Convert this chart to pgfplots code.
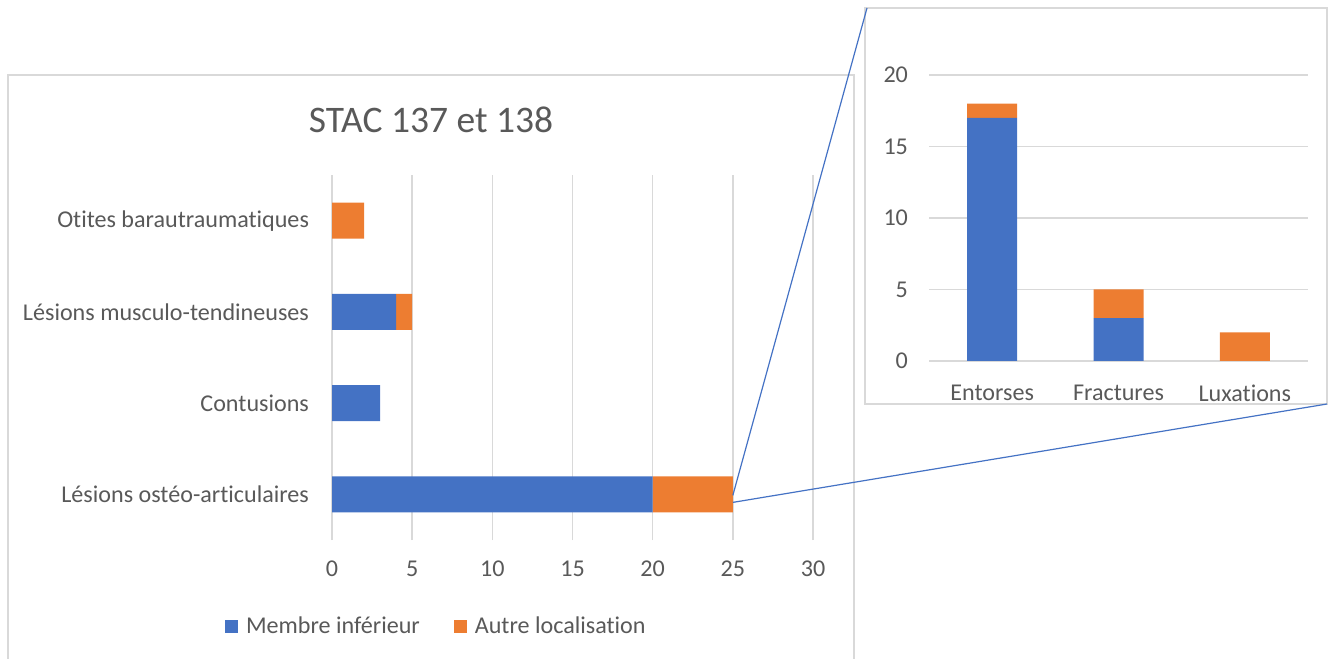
\documentclass[border=0pt]{standalone}
\usepackage{pgfplots}
\pgfplotsset{compat=1.18}
\usepackage{fontspec}
\setmainfont{Carlito}[Ligatures=NoCommon]
\definecolor{cblue}{HTML}{4472C4}
\definecolor{corange}{HTML}{ED7D31}
\definecolor{cgrid}{HTML}{D9D9D9}
\definecolor{ctext}{HTML}{595959}
\begin{document}
\begin{tikzpicture}
\useasboundingbox (0,0) rectangle (668pt,329pt);
% chart frames
\draw[cgrid, line width=0.8pt] (4pt,-5pt) -- (4pt,291.5pt) -- (427pt,291.5pt) -- (427pt,-5pt);
\draw[cgrid, line width=0.8pt] (432.5pt,127pt) rectangle (663.5pt,325pt);
\node[text=ctext, font=\fontsize{18.75}{22}\selectfont] at (215.5pt,269pt) {STAC 137 et 138};
\begin{axis}[
  at={(166pt,59pt)}, anchor=south west, scale only axis,
  width=240.5pt, height=182.5pt,
  xbar stacked, bar width=18pt,
  xmin=0, xmax=30, ymin=-0.5, ymax=3.5,
  xtick={0,5,...,30}, ytick={0,1,2,3},
  yticklabels={Lésions ostéo-articulaires, Contusions, Lésions musculo-tendineuses, Otites barautraumatiques},
  xmajorgrids, grid style={cgrid, line width=0.8pt},
  axis line style={draw=none}, major tick length=0pt,
  tick label style={font=\fontsize{12.05}{14}\selectfont, text=ctext},
  xticklabel style={yshift=-7pt},
  yticklabel style={xshift=-8pt},
  /pgf/number format/assume math mode=true,
  legend columns=2,
  legend style={at={(0.219,-0.238)}, anchor=center, draw=none, fill=none,
    font=\fontsize{12.05}{14}\selectfont, text=ctext,
    /tikz/every even column/.append style={column sep=15pt}},
  legend cell align=left,
]
\addplot[fill=cblue, draw=none, legend image code/.code={\fill[cblue] (0pt,-3.25pt) rectangle (6.5pt,3.25pt); \path (8.5pt,0pt);}] coordinates {(20,0) (3,1) (4,2) (0,3)};
\addplot[fill=corange, draw=none, legend image code/.code={\fill[corange] (0pt,-3.25pt) rectangle (6.5pt,3.25pt); \path (8.5pt,0pt);}] coordinates {(5,0) (0,1) (1,2) (2,3)};
\legend{Membre inférieur, Autre localisation}
\coordinate (bend) at (axis cs:25,0);
\end{axis}
\begin{axis}[
  at={(464.5pt,148.5pt)}, anchor=south west, scale only axis,
  width=189.5pt, height=143pt,
  ybar stacked, bar width=25pt,
  xmin=-0.5, xmax=2.5, ymin=0, ymax=20,
  xtick={0,1,2}, xticklabels={Entorses, Fractures, Luxations},
  ytick={0,5,...,20},
  ymajorgrids, grid style={cgrid, line width=0.8pt},
  axis line style={draw=none}, major tick length=0pt,
  tick label style={font=\fontsize{12.05}{14}\selectfont, text=ctext},
  xticklabel style={yshift=-8.5pt},
  yticklabel style={xshift=-7pt},
  /pgf/number format/assume math mode=true,
]
\addplot[fill=cblue, draw=none] coordinates {(0,17) (1,3) (2,0)};
\addplot[fill=corange, draw=none] coordinates {(0,1) (1,2) (2,2)};
\end{axis}
\draw[cblue, line width=0.6pt] ([yshift=-0.5pt]bend) -- (433.5pt,325pt);
\draw[cblue, line width=0.6pt] ([yshift=-4pt]bend) -- (663.5pt,127pt);
\end{tikzpicture}
\end{document}
